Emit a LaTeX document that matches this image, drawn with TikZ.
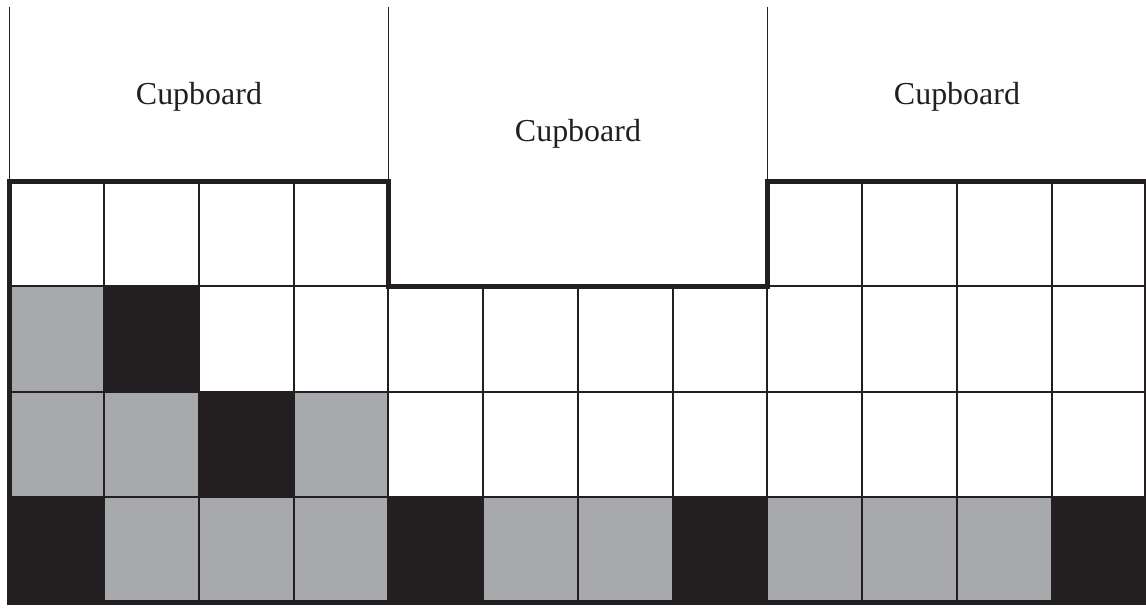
\documentclass[tikz,border=0pt]{standalone}
\usepackage{fontspec}
\setmainfont{Liberation Serif}
\definecolor{ink}{HTML}{231F20}
\definecolor{cellgray}{HTML}{A7A9AC}
\begin{document}
\begin{tikzpicture}[x=1cm, y=1.1108cm, line join=miter, font=\fontsize{9.6}{11}\selectfont]

	% Khung ảnh (giữ đúng tỉ lệ)
	\useasboundingbox (0,-0.057) rectangle (12.095,5.72);

	% Tô các ô đen
	\foreach \c/\r in {0/0, 4/0, 7/0, 11/0, 2/1, 1/2} {
		\fill[ink] (0.1+\c,\r) rectangle ++(1,1);
	}
	% Tô các ô xám
	\foreach \c/\r in {1/0, 2/0, 3/0, 5/0, 6/0, 8/0, 9/0, 10/0, 0/1, 1/1, 3/1, 0/2} {
		\fill[cellgray] (0.1+\c,\r) rectangle ++(1,1);
	}

	% Lưới mảnh
	\foreach \r in {1,2,3} {
		\draw[ink, line width=0.6pt] (0.1,\r) -- (12.1,\r);
	}
	\foreach \c in {1,...,11} {
		\draw[ink, line width=0.6pt] (0.1+\c,0) -- (0.1+\c,3);
	}
	\foreach \c in {1,2,3,9,10,11} {
		\draw[ink, line width=0.6pt] (0.1+\c,3) -- (0.1+\c,4);
	}

	% Viền đậm quanh sàn
	\draw[ink, line width=1.5pt] (0.1,0) -- (0.1,4) -- (4.1,4) -- (4.1,3) -- (8.1,3) -- (8.1,4) -- (12.1,4) -- (12.1,0) -- cycle;

	% Các tủ phía trên
	\foreach \c in {0,4,8,12} {
		\draw[ink, line width=0.45pt] (0.1+\c,4) -- (0.1+\c,5.653);
	}
	\node[anchor=base, text=ink] (cbL) at (2.1,4.73) {Cupboard};
	\node[anchor=base, text=ink] (cbM) at (6.1,4.375) {Cupboard};
	\node[anchor=base, text=ink] (cbR) at (10.1,4.73) {Cupboard};

\end{tikzpicture}
\end{document}
